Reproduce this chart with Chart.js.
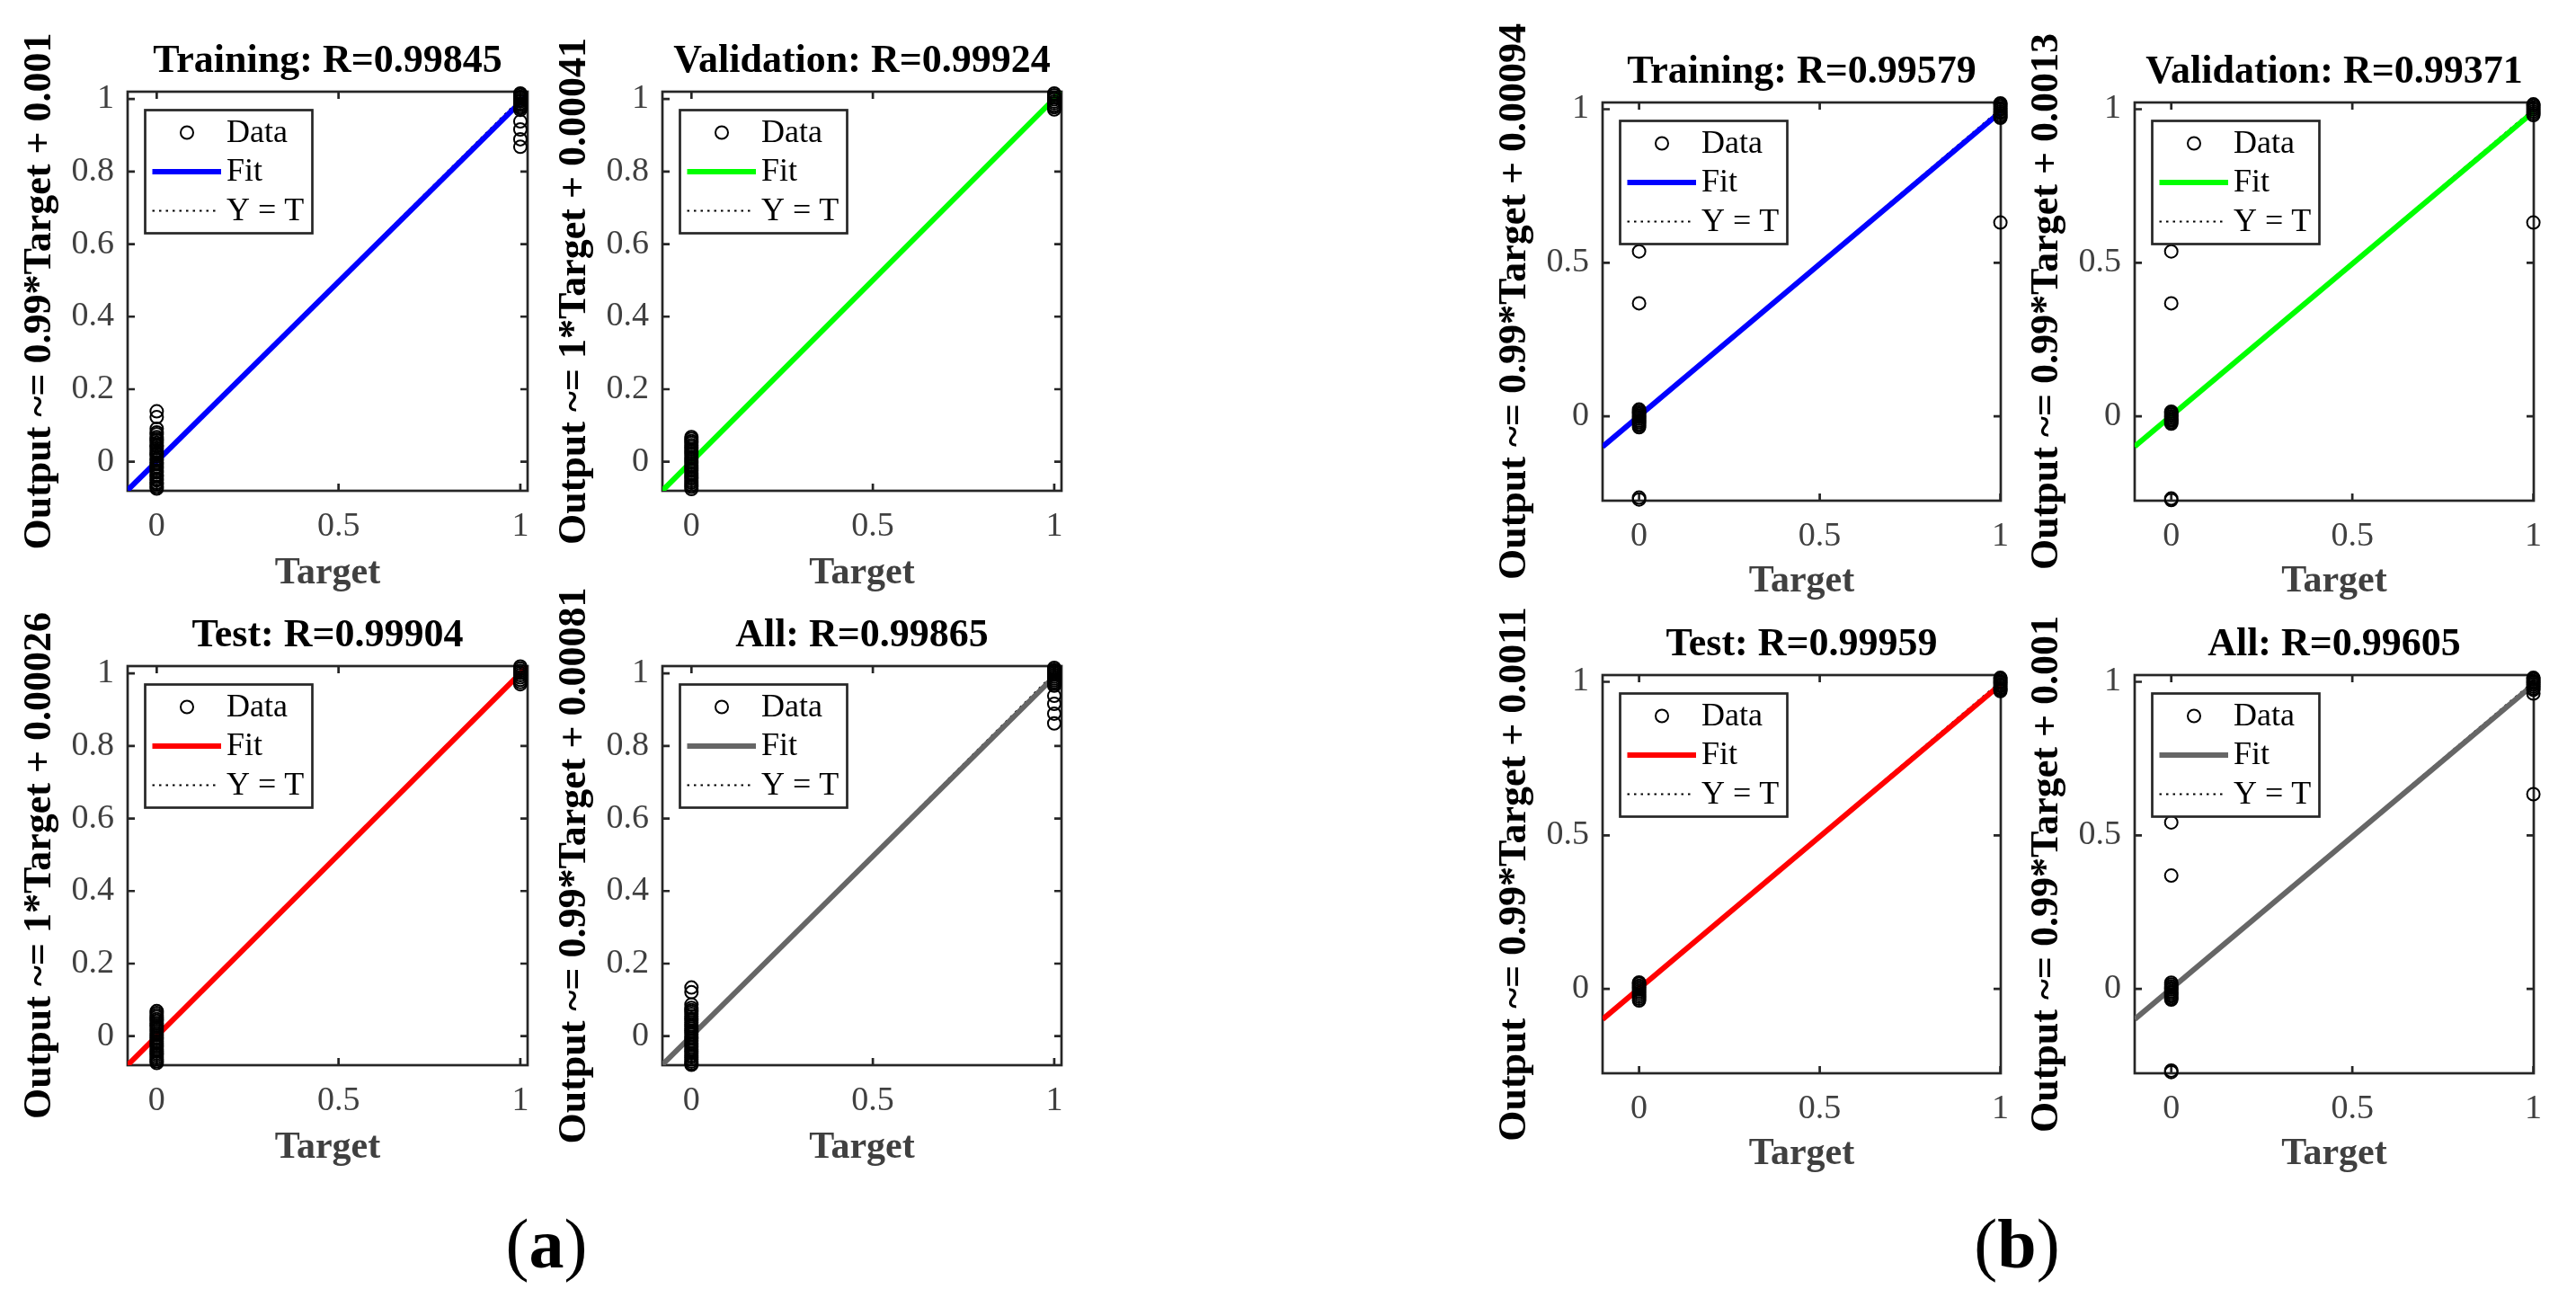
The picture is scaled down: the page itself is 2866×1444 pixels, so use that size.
<!DOCTYPE html>
<html>
<head>
<meta charset="utf-8">
<title>Regression plots</title>
<script src="https://cdn.jsdelivr.net/npm/chart.js@4.4.1/dist/chart.umd.min.js"></script>
<style>
  html, body { margin: 0; padding: 0; background: #fff; }
  body { width: 2866px; height: 1444px; position: relative; overflow: hidden; }
  canvas { position: absolute; }
  .tag {
    position: absolute;
    font-family: "Liberation Serif", "Times New Roman", serif;
    font-size: 78px;
    line-height: 78px;
    color: #000;
    transform: translateX(-50%);
    white-space: nowrap;
  }
</style>
</head>
<body>
<div class="tag" style="left:608px; top:1345px;">(<b>a</b>)</div>
<div class="tag" style="left:2244px; top:1345px;">(<b>b</b>)</div>

<script>
//--------------------- Data ---------------------

const xTicks = [0, 0.5, 1];
const yTicksA = [0, 0.2, 0.4, 0.6, 0.8, 1];
const yTicksB = [0, 0.5, 1];
const limA = [-0.08, 1.02];      // (a) shares x and y limits
const xLimB = [-0.101, 1.001];
const yLimB = [-0.275, 1.022];

const panelTitles = [
  "Training: R=0.99845", "Validation: R=0.99924", "Test: R=0.99904", "All: R=0.99865",
  "Training: R=0.99579", "Validation: R=0.99371", "Test: R=0.99959", "All: R=0.99605",
];
const fitSlopes = [0.99, 1, 1, 0.99, 0.99, 0.99, 0.99, 0.99];
const fitOffsets = [0.001, 0.00041, 0.00026, 0.00081, 0.00094, 0.0013, 0.0011, 0.001];

// outputs for target = 0 and target = 1
const aTrainZero = [0.139, 0.123, 0.091, 0.081, 0.076, 0.068, 0.063, 0.059, 0.052, 0.046, 0.043, 0.037, 0.03, 0.024, 0.021, 0.015, 0.008, 0.004, -0.002, -0.007, -0.013, -0.018, -0.025, -0.029, -0.036, -0.04, -0.047, -0.051, -0.058, -0.062, -0.069, -0.074];
const aTrainOne = [1.015, 1.011, 1.006, 1.002, 0.997, 0.993, 0.988, 0.984, 0.979, 0.975, 0.97, 0.938, 0.916, 0.889, 0.868];
const aValZero = [0.068, 0.063, 0.057, 0.052, 0.046, 0.041, 0.035, 0.029, 0.024, 0.019, 0.013, 0.008, 0.002, -0.003, -0.009, -0.014, -0.02, -0.025, -0.031, -0.036, -0.042, -0.047, -0.053, -0.058, -0.064, -0.069, -0.075];
const aValOne = [1.015, 1.01, 1.004, 0.999, 0.993, 0.988, 0.982, 0.977, 0.971];
const aTestZero = [0.069, 0.064, 0.058, 0.053, 0.047, 0.042, 0.036, 0.03, 0.025, 0.019, 0.014, 0.008, 0.003, -0.003, -0.008, -0.014, -0.019, -0.025, -0.03, -0.036, -0.041, -0.047, -0.052, -0.058, -0.063, -0.069, -0.074];
const aTestOne = [1.019, 1.013, 1.007, 1.001, 0.995, 0.989, 0.982, 0.976, 0.97];
const aAllZero = [0.134, 0.121, 0.087, 0.078, 0.072, 0.067, 0.061, 0.055, 0.049, 0.044, 0.038, 0.032, 0.027, 0.021, 0.015, 0.01, 0.004, -0.002, -0.007, -0.013, -0.019, -0.024, -0.03, -0.036, -0.041, -0.047, -0.053, -0.058, -0.064, -0.07, -0.075, -0.079];
const aAllOne = [1.015, 1.01, 1.006, 1.001, 0.996, 0.991, 0.986, 0.981, 0.976, 0.971, 0.966, 0.938, 0.916, 0.889, 0.862];

const bTrainZero = [0.537, 0.368, 0.022, 0.017, 0.012, 0.007, 0.002, -0.003, -0.008, -0.014, -0.019, -0.025, -0.03, -0.036, -0.265, -0.271];
const bTrainOne = [1.019, 1.014, 1.009, 1.003, 0.998, 0.992, 0.987, 0.981, 0.976, 0.972, 0.631];
const bValZero = [0.537, 0.368, 0.015, 0.01, 0.005, 0, -0.005, -0.01, -0.014, -0.019, -0.024, -0.268, -0.273];
const bValOne = [1.016, 1.011, 1.005, 0.999, 0.993, 0.987, 0.981, 0.631];
const bTestZero = [0.021, 0.016, 0.01, 0.004, -0.002, -0.008, -0.014, -0.02, -0.026, -0.032, -0.038];
const bTestOne = [1.013, 1.008, 1.002, 0.997, 0.991, 0.986, 0.98, 0.975, 0.97];
const bAllZero = [0.542, 0.369, 0.02, 0.014, 0.008, 0.003, -0.002, -0.008, -0.013, -0.019, -0.024, -0.03, -0.035, -0.266, -0.271];
const bAllOne = [1.013, 1.008, 1.002, 0.997, 0.991, 0.985, 0.979, 0.974, 0.962, 0.634];

const panelZero = [aTrainZero, aValZero, aTestZero, aAllZero, bTrainZero, bValZero, bTestZero, bAllZero];
const panelOne = [aTrainOne, aValOne, aTestOne, aAllOne, bTrainOne, bValOne, bTestOne, bAllOne];

//--------------------- Layout / style ---------------------

const FONT = '"Liberation Serif", "Times New Roman", serif';
const axisColor = "#262626";
const labelGray = "#404040";
const fitColors = ["#0000ff", "#00ff00", "#ff0000", "#666666"];

// plot area of each panel: left, top, right, bottom (page pixels)
const panelBoxes = [
  [142, 101.5, 587, 545.5], [737, 101.5, 1180.5, 545.5],
  [142, 740.5, 587, 1184.5], [737, 740.5, 1180.5, 1184.5],
  [1783, 114, 2226, 556.5], [2375, 114, 2819, 556.5],
  [1783, 750.5, 2226, 1193.5], [2375, 750.5, 2819, 1193.5],
];
const PAD_LEFT = 140, PAD_TOP = 96, PAD_RIGHT = 30, PAD_BOTTOM = 125;

// box and inward ticks on all four sides, like MATLAB
const matlabAxes = {
  id: "matlabAxes",
  beforeDatasetsDraw(chart) {
    const { ctx, chartArea: a, scales: { x, y } } = chart;
    const len = 8;
    ctx.save();
    ctx.strokeStyle = axisColor;
    ctx.lineWidth = 2.7;
    ctx.strokeRect(a.left, a.top, a.right - a.left, a.bottom - a.top);
    ctx.beginPath();
    x.ticks.forEach((t) => {
      const px = x.getPixelForValue(t.value);
      ctx.moveTo(px, a.bottom); ctx.lineTo(px, a.bottom - len);
      ctx.moveTo(px, a.top); ctx.lineTo(px, a.top + len);
    });
    y.ticks.forEach((t) => {
      const py = y.getPixelForValue(t.value);
      ctx.moveTo(a.left, py); ctx.lineTo(a.left + len, py);
      ctx.moveTo(a.right, py); ctx.lineTo(a.right - len, py);
    });
    ctx.stroke();
    ctx.restore();
  },
};

// framed legend in the upper-left corner of the axes
const boxLegend = {
  id: "boxLegend",
  afterDatasetsDraw(chart) {
    const { ctx, chartArea: a } = chart;
    const bx = a.left + 19.5, by = a.top + 20.5, bw = 186, bh = 137;
    ctx.save();
    ctx.fillStyle = "#fff";
    ctx.fillRect(bx, by, bw, bh);
    ctx.strokeStyle = axisColor;
    ctx.lineWidth = 2.7;
    ctx.strokeRect(bx, by, bw, bh);
    ctx.font = "36px " + FONT;
    ctx.textBaseline = "middle";
    chart.data.datasets.forEach((ds, i) => {
      const rowY = by + 25 + i * 43.5;
      ctx.save();
      if (ds.showLine) {
        ctx.strokeStyle = ds.borderColor;
        ctx.lineWidth = ds.borderWidth;
        ctx.setLineDash(ds.borderDash || []);
        ctx.beginPath();
        ctx.moveTo(bx + 8, rowY);
        ctx.lineTo(bx + (ds.borderDash ? 79 : 84.5), rowY);
        ctx.stroke();
      } else {
        ctx.strokeStyle = ds.pointBorderColor;
        ctx.lineWidth = ds.pointBorderWidth;
        ctx.beginPath();
        ctx.arc(bx + 46.5, rowY, ds.pointRadius, 0, Math.PI * 2);
        ctx.stroke();
      }
      ctx.restore();
      ctx.fillStyle = "#000";
      ctx.fillText(ds.label, bx + 90.5, rowY + 1);
    });
    ctx.restore();
  },
};

function makePanel(i) {
  const [L, T, R, B] = panelBoxes[i];
  const isA = i < 4;
  const xLim = isA ? limA : xLimB;
  const yLim = isA ? limA : yLimB;
  const yTicks = isA ? yTicksA : yTicksB;

  const canvas = document.createElement("canvas");
  canvas.width = Math.round(R - L) + PAD_LEFT + PAD_RIGHT;
  canvas.height = Math.round(B - T) + PAD_TOP + PAD_BOTTOM;
  canvas.style.left = Math.round(L) - PAD_LEFT + "px";
  canvas.style.top = Math.round(T) - PAD_TOP + "px";
  document.body.appendChild(canvas);

  const points = panelZero[i].map((v) => ({ x: 0, y: v }))
    .concat(panelOne[i].map((v) => ({ x: 1, y: v })));
  const m = fitSlopes[i], c = fitOffsets[i];

  new Chart(canvas, {
    type: "scatter",
    data: {
      datasets: [
        {
          label: "Data",
          data: points,
          pointStyle: "circle",
          pointRadius: 7,
          pointBorderWidth: 2,
          pointBorderColor: "#000",
          pointBackgroundColor: "rgba(0,0,0,0)",
          clip: false,
          order: 0,
        },
        {
          label: "Fit",
          data: xLim.map((x) => ({ x, y: m * x + c })),
          showLine: true,
          borderColor: fitColors[i % 4],
          borderWidth: 6,
          pointRadius: 0,
          order: 1,
        },
        {
          label: "Y = T",
          data: xLim.map((x) => ({ x, y: x })),
          showLine: true,
          borderColor: "#000",
          borderWidth: 2,
          borderDash: [2.5, 5],
          pointRadius: 0,
          order: 2,
        },
      ],
    },
    options: {
      responsive: false,
      animation: false,
      devicePixelRatio: 1,
      events: [],
      layout: { padding: { left: 0, top: 0, right: PAD_RIGHT, bottom: 0 } },
      plugins: {
        legend: { display: false },
        tooltip: { enabled: false },
        title: {
          display: true,
          text: panelTitles[i],
          fullSize: false,
          color: "#000",
          font: { family: FONT, size: 44, weight: "bold", lineHeight: 1.2 },
          padding: { top: 36, bottom: 7.2 },
        },
      },
      scales: {
        x: {
          type: "linear",
          min: xLim[0],
          max: xLim[1],
          afterBuildTicks: (s) => { s.ticks = xTicks.map((v) => ({ value: v })); },
          afterFit: (s) => { s.height = PAD_BOTTOM; },
          grid: { display: false, drawTicks: false },
          border: { display: false },
          ticks: {
            autoSkip: false, maxRotation: 0, padding: 17,
            color: labelGray, font: { family: FONT, size: 38 },
            callback: (v) => String(v),
          },
          title: {
            display: true, text: "Target", color: labelGray,
            font: { family: FONT, size: 42, weight: "bold", lineHeight: 1.2 },
            padding: { top: 0, bottom: isA ? 7.8 : 9.3 },
          },
        },
        y: {
          type: "linear",
          min: yLim[0],
          max: yLim[1],
          afterBuildTicks: (s) => { s.ticks = yTicks.map((v) => ({ value: v })); },
          afterFit: (s) => { s.width = PAD_LEFT; },
          grid: { display: false, drawTicks: false },
          border: { display: false },
          ticks: {
            autoSkip: false, padding: 15,
            color: labelGray, font: { family: FONT, size: 38 },
            callback: (v) => String(v),
          },
          title: {
            display: true,
            text: `Output ~= ${m}*Target + ${c}`,
            color: "#000",
            font: { family: FONT, size: 44, weight: "bold", lineHeight: 1.2 },
            padding: { top: 16.6, bottom: 0 },
          },
        },
      },
    },
    plugins: [matlabAxes, boxLegend],
  });
}

panelBoxes.forEach((box, i) => makePanel(i));
</script>
</body>
</html>
